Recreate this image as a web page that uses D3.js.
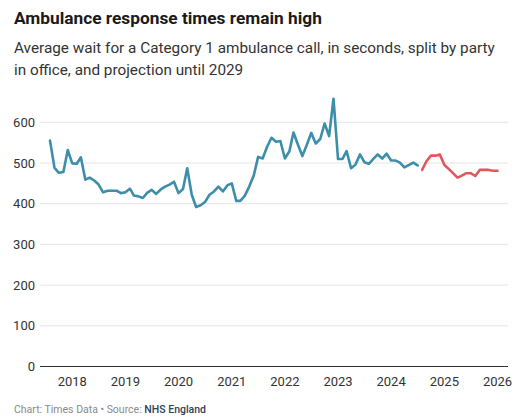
<!DOCTYPE html>
<html>
<head>
<meta charset="utf-8">
<script src="https://cdn.jsdelivr.net/npm/d3@7"></script>
<style>
  html, body { margin: 0; padding: 0; background: #fff; }
  svg { display: block; font-family: Roboto, "Noto Sans", sans-serif; }
</style>
</head>
<body>
<svg id="chart" width="516" height="417"></svg>
<script>
// Monthly average Category 1 response time (seconds)
const startMonth = "2017-08";
const conservativeValues = [
  555, 488, 476, 478, 532, 499, 498, 514, 459, 464, 457, 447,
  428, 432, 432, 432, 426, 428, 437, 420, 418, 414, 427, 434,
  424, 435, 442, 447, 454, 426, 436, 487, 422, 392, 396, 404,
  422, 430, 442, 430, 445, 450, 407, 407, 420, 442, 469, 515,
  511, 540, 562, 552, 554, 511, 529, 575, 545, 517, 545, 574,
  548, 559, 597, 566, 658, 510, 510, 529, 487, 496, 521, 502,
  498, 510, 521, 511, 523, 506, 506, 501, 489, 495, 501, 494
];
const labourValues = [
  483, 505, 518, 518, 521, 495, 485, 475, 464, 469, 475, 475,
  468, 483, 483, 483, 481, 481
];
const yTicks = [0, 100, 200, 300, 400, 500, 600];
const xTickYears = [2018, 2019, 2020, 2021, 2022, 2023, 2024, 2025, 2026];

const parseMonth = d3.timeParse("%Y-%m");
const start = parseMonth(startMonth);
const toSeries = (vals, offset) =>
  vals.map((v, i) => ({ date: d3.timeMonth.offset(start, offset + i), value: v }));
const blue = toSeries(conservativeValues, 0);
const red = toSeries(labourValues, conservativeValues.length);

const svg = d3.select("#chart");

const x = d3.scaleTime()
  .domain([start, red[red.length - 1].date])
  .range([50, 497.5]);
const y = d3.scaleLinear().domain([0, 600]).range([366.5, 122.3]);

// Title block
svg.append("text").attr("x", 14).attr("y", 24)
  .attr("font-size", 17.3).attr("font-weight", 700).attr("fill", "#1a1a1a")
  .text("Ambulance response times remain high");
const sub = svg.append("text").attr("font-size", 15.3).attr("fill", "#333");
sub.append("tspan").attr("x", 14).attr("y", 52.5)
  .text("Average wait for a Category 1 ambulance call, in seconds, split by party");
sub.append("tspan").attr("x", 14).attr("y", 74.5)
  .text("in office, and projection until 2029");

// Gridlines and y labels
const grid = svg.append("g");
grid.selectAll("line").data(yTicks.filter(d => d > 0)).join("line")
  .attr("x1", 40).attr("x2", 508)
  .attr("y1", d => y(d)).attr("y2", d => y(d))
  .attr("stroke", "#e5e5e5").attr("stroke-width", 1);
svg.append("line").attr("x1", 40).attr("x2", 508)
  .attr("y1", y(0)).attr("y2", y(0))
  .attr("stroke", "#333").attr("stroke-width", 1);
svg.append("g").selectAll("text").data(yTicks).join("text")
  .attr("x", 35).attr("y", d => y(d)).attr("dy", "0.35em")
  .attr("text-anchor", "end").attr("font-size", 13).attr("fill", "#333")
  .text(d => d);

// X axis labels
svg.append("g").selectAll("text").data(xTickYears).join("text")
  .attr("x", d => x(new Date(d, 0, 1))).attr("y", 386)
  .attr("text-anchor", "middle").attr("font-size", 13).attr("fill", "#333")
  .text(d => d);

// Lines
const line = d3.line().x(d => x(d.date)).y(d => y(d.value)).curve(d3.curveLinear);
svg.append("path").datum(blue).attr("d", line)
  .attr("fill", "none").attr("stroke", "#3c8eaa").attr("stroke-width", 2.6)
  .attr("stroke-linejoin", "round").attr("stroke-linecap", "round");
svg.append("path").datum(red).attr("d", line)
  .attr("fill", "none").attr("stroke", "#e0575c").attr("stroke-width", 2.6)
  .attr("stroke-linejoin", "round").attr("stroke-linecap", "round");

// Footer
const foot = svg.append("text").attr("x", 14).attr("y", 413).attr("font-size", 10.5);
foot.append("tspan").attr("fill", "#8a8a8a").text("Chart: Times Data • Source: ");
foot.append("tspan").attr("fill", "#2e4257").attr("font-weight", 500).text("NHS England");
</script>
</body>
</html>
